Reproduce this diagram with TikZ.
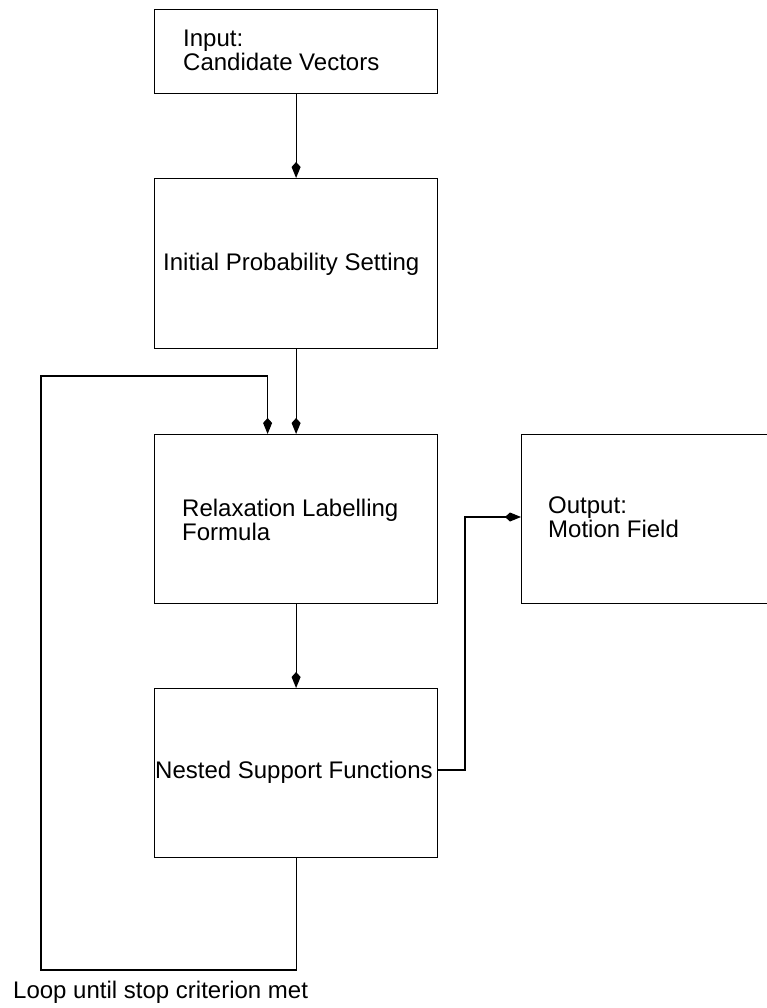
\documentclass[tikz,border=0pt]{standalone}
\usepackage{fontspec}
\setmainfont{Liberation Sans}
\usetikzlibrary{arrows.meta}

\begin{document}
\begin{tikzpicture}[x=1pt,y=-1pt,
  box/.style={draw, line width=1.2pt, minimum width=283pt, inner sep=0pt, anchor=north west},
  lbl/.style={anchor=base west, inner sep=0pt, font=\fontsize{24}{24}\selectfont, align=left},
  flow/.style={line width=1.2pt, -{Kite[length=16pt,width=9pt,inset=5pt]}}]
\useasboundingbox (0,0) rectangle (766,1008);

% process boxes
\node[box, minimum height=84pt]  (in)   at (154,9)   {};
\node[box, minimum height=170pt] (init) at (154,178) {};
\node[box, minimum height=169pt] (rel)  at (154,434) {};
\node[box, minimum height=169pt] (nest) at (154,688) {};
\node[box, minimum height=169pt, minimum width=270pt] (out) at (521,434) {};

% labels (base anchor sits on the last line)
\node[lbl] (tin)   at (183,71)  {Input:\\Candidate Vectors};
\node[lbl] (tinit) at (163,270) {Initial Probability Setting};
\node[lbl] (trel)  at (182,540) {Relaxation Labelling\\Formula};
\node[lbl] (tout)  at (548,537) {Output:\\Motion Field};
\node[lbl] (tnest) at (155,778) {Nested Support Functions};
\node[lbl] (tloop) at (13,998)  {Loop until stop criterion met};

% main flow
\draw[flow] (in.south) -- (init.north);
\draw[flow] (init.south) -- (rel.north);
\draw[flow] (rel.south) -- (nest.north);

% feedback loop
\coordinate (lb) at (41,970);
\coordinate (lt) at (41,376);
\draw[flow] (nest.south) -- (nest.south |- lb) -- (lb) -- (lt)
  -- ([xshift=-28.5pt]rel.north |- lt) -- ([xshift=-28.5pt]rel.north);

% result to output
\coordinate (ob) at (465,770);
\coordinate (ot) at (465,517);
\draw[flow] (nest.east |- ob) -- (ob) -- (ot) -- (out.west |- ot);
\end{tikzpicture}
\end{document}
